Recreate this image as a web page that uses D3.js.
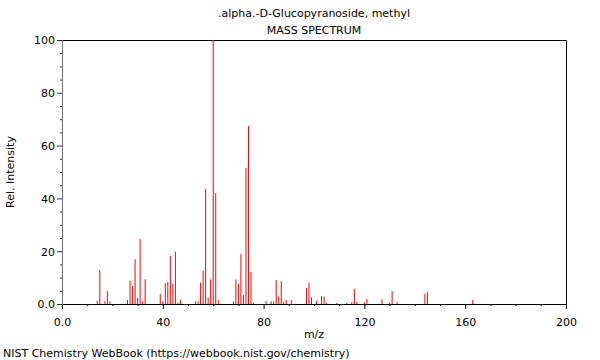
<!DOCTYPE html>
<meta charset="utf-8">
<style>
body { margin: 0; background: #fff; }
text { font-family: "DejaVu Sans", sans-serif; font-size: 11px; fill: #000; }
.frame { stroke: #000; stroke-width: 1px; fill: none; }
.peak { stroke: #ff0000; stroke-width: 1px; }
</style>
<svg width="600" height="360"></svg>
<script src="https://d3js.org/d3.v7.min.js"></script>
<script>

// m/z values and relative intensities
var mz = [14, 15, 17, 18, 19, 26, 27, 28, 29, 30, 31, 32, 33, 39, 40, 41, 42, 43, 44, 45, 46, 47,
          53, 54, 55, 56, 57, 58, 59, 60, 61, 62, 68, 69, 70, 71, 72, 73, 74, 75, 76,
          81, 83, 84, 85, 86, 87, 88, 89, 91, 97, 98, 99, 101, 103, 104, 105, 109, 113,
          115, 116, 117, 120, 121, 127, 130, 131, 133, 144, 145, 163];
var intensity = [1.2, 12.9, 1.0, 4.8, 1.0, 1.5, 8.8, 6.8, 16.9, 2.3, 24.7, 1.0, 9.3, 3.8, 1.0, 7.8, 8.3, 18.2, 7.6, 19.8, 0.5, 1.5,
                 1.0, 1.0, 8.1, 12.6, 43.6, 2.5, 9.3, 100, 42.0, 1.5, 1.0, 9.3, 7.6, 18.9, 3.3, 51.6, 67.4, 12.1, 0.5,
                 1.1, 1.0, 1.0, 9.1, 2.8, 8.6, 1.0, 1.5, 1.5, 6.0, 8.1, 2.5, 1.2, 3.0, 2.8, 0.4, 0.4, 0.4,
                 0.7, 5.7, 0.7, 0.6, 1.9, 1.8, 0.4, 4.9, 0.7, 3.8, 4.5, 1.5];

var xMajor = [0, 40, 80, 120, 160, 200];
var xLabels = ["0.0", "40", "80", "120", "160", "200"];
var yMajor = [0, 20, 40, 60, 80, 100];
var yLabels = ["0.0", "20", "40", "60", "80", "100"];

var svg = d3.select("svg"),
    margin = {top: 40, right: 34, bottom: 56, left: 62},
    width = +svg.attr("width") - margin.left - margin.right,
    height = +svg.attr("height") - margin.top - margin.bottom;

var x = d3.scaleLinear().domain([0, 200]).range([0, width]);
var y = d3.scaleLinear().domain([0, 100]).range([height, 0]);

var g = svg.append("g").attr("transform", "translate(" + margin.left + "," + margin.top + ")");

// frame top and right
g.append("path").attr("class", "frame")
    .attr("d", "M0,0.5H" + (width + 0.5) + "V" + height);

// peaks
g.selectAll(".peak")
  .data(mz)
  .enter().append("line")
    .attr("class", "peak")
    .attr("x1", function(d) { return x(d); })
    .attr("x2", function(d) { return x(d); })
    .attr("y1", y(0))
    .attr("y2", function(d, i) { return y(intensity[i]); });

// x axis: minor every 10, major every 40
var xAxis = g.append("g").attr("transform", "translate(0," + height + ")");
xAxis.call(d3.axisBottom(x).tickValues(d3.range(0, 201, 10)).tickSize(2).tickFormat(""));
xAxis.call(function(s) {
  s.selectAll(".tick").filter(function(d) { return d % 40 === 0; }).select("line").attr("y2", 5);
  s.selectAll(".tick").filter(function(d) { return d % 40 === 0; }).append("text")
      .attr("y", 22).attr("text-anchor", "middle").attr("fill", "#000")
      .style("font-size", "11px")
      .text(function(d) { return xLabels[xMajor.indexOf(d)]; });
});
xAxis.select(".domain").attr("stroke", "#000");

// y axis: minor every 5, major every 20
var yAxis = g.append("g");
yAxis.call(d3.axisLeft(y).tickValues(d3.range(0, 101, 5)).tickSize(2).tickFormat(""));
yAxis.call(function(s) {
  s.selectAll(".tick").filter(function(d) { return d % 20 === 0; }).select("line").attr("x2", -5);
  s.selectAll(".tick").filter(function(d) { return d % 20 === 0; }).append("text")
      .attr("x", -7).attr("dy", "0.35em").attr("text-anchor", "end").attr("fill", "#000")
      .style("font-size", "11px")
      .text(function(d) { return yLabels[yMajor.indexOf(d)]; });
});
yAxis.select(".domain").attr("stroke", "#777");
yAxis.selectAll(".tick line").attr("stroke", "#333");

// titles
svg.append("text").attr("x", margin.left + width / 2).attr("y", 17)
    .attr("text-anchor", "middle").text(".alpha.-D-Glucopyranoside, methyl");
svg.append("text").attr("x", margin.left + width / 2).attr("y", 34)
    .attr("text-anchor", "middle").text("MASS SPECTRUM");
svg.append("text").attr("x", margin.left + width / 2).attr("y", 338)
    .attr("text-anchor", "middle").text("m/z");
svg.append("text").attr("transform", "translate(14," + (margin.top + height / 2) + ") rotate(-90)")
    .attr("text-anchor", "middle").text("Rel. Intensity");
svg.append("text").attr("x", 3).attr("y", 357).text("NIST Chemistry WebBook (https://webbook.nist.gov/chemistry)");

</script>
